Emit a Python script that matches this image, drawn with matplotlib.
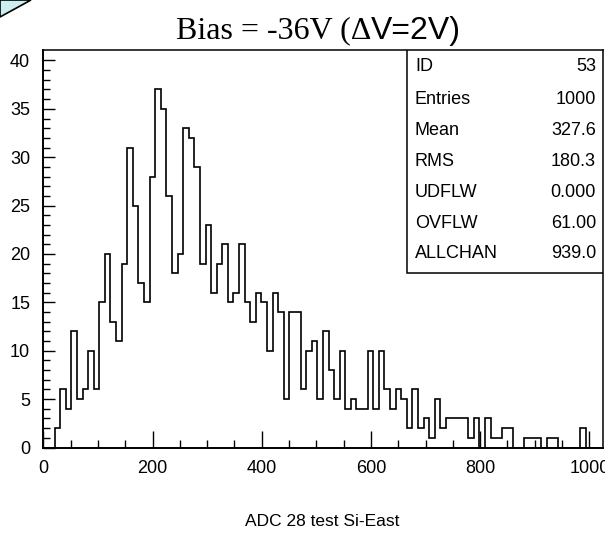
# -*- coding: utf-8 -*-

import numpy as np
import matplotlib
matplotlib.use("Agg")
import matplotlib.pyplot as plt
from matplotlib.patches import Rectangle, Polygon

# histogram: 100 channels between 0 and 1024
x_min = 0
x_max = 1024
n_bins = 100
counts = [
    0, 0, 2, 6, 4, 12, 5, 6, 10, 6,
    15, 20, 13, 11, 19, 31, 25, 17, 15, 28,
    37, 35, 26, 18, 20, 33, 32, 29, 19, 23,
    16, 19, 21, 15, 16, 21, 15, 13, 16, 15,
    10, 16, 14, 5, 14, 14, 6, 10, 11, 5,
    12, 8, 5, 10, 4, 5, 4, 4, 10, 4,
    10, 6, 4, 6, 5, 2, 6, 2, 3, 1,
    5, 2, 3, 3, 3, 3, 1, 3, 0, 3,
    1, 1, 2, 2, 0, 0, 1, 1, 1, 0,
    1, 1, 0, 0, 0, 0, 2, 0, 0, 0,
]

stat_names = ["ID", "Entries", "Mean", "RMS", "UDFLW", "OVFLW", "ALLCHAN"]
stat_values = ["53", "1000", "327.6", "180.3", "0.000", "61.00", "939.0"]

title_serif = "Bias = -36V (\u0394"
title_sans = "V=2V)"
x_title = "ADC 28 test Si-East"

paw_font = ["Liberation Sans", "DejaVu Sans"]
plt.rcParams["font.family"] = paw_font


def draw_histogram():
    fig = plt.figure(figsize=(6.05, 5.36), dpi=100)
    W, H = 605.0, 536.0
    ax = fig.add_axes([43.4 / W, 1 - 447.5 / H, (602.5 - 43.4) / W, (447.5 - 50) / H])

    edges = np.linspace(x_min, x_max, n_bins + 1)
    ax.stairs(counts, edges, color="black", lw=1.2, baseline=0)

    ax.set_xlim(x_min, x_max)
    ax.set_ylim(0, 41.08)

    ax.set_xticks(np.arange(0, 1001, 200))
    ax.set_xticks(np.arange(0, 1001, 50), minor=True)
    ax.set_yticks(np.arange(0, 41, 5))
    ax.set_yticks(np.arange(0, 41, 1), minor=True)

    ax.tick_params(axis="x", which="major", direction="in", length=12, width=1.0,
                   labelsize=13, pad=9, top=False)
    ax.tick_params(axis="x", which="minor", direction="in", length=5.8, width=1.0, top=False)
    ax.tick_params(axis="y", which="major", direction="in", length=8.4, width=1.0,
                   labelsize=13, pad=9.5, right=False)
    ax.tick_params(axis="y", which="minor", direction="in", length=4.8, width=1.0, right=False)

    for side in ["left", "bottom"]:
        ax.spines[side].set_linewidth(1.4)
    for side in ["top", "right"]:
        ax.spines[side].set_linewidth(1.1)

    # statistics box (top right corner)
    bx0 = (406.5 - 43.4) / (602.5 - 43.4)
    by0 = (447.5 - 273) / (447.5 - 50)
    ax.add_patch(Rectangle((bx0, by0), 1 - bx0, 1 - by0, transform=ax.transAxes,
                           facecolor="white", edgecolor="black", lw=1.1, zorder=5))
    row_tops = [66.7, 99, 130.5, 161.5, 192.5, 223, 253.5]
    for name, val, py in zip(stat_names, stat_values, row_tops):
        fig.text(415 / W, 1 - py / H, name, ha="left", va="center", fontsize=13, zorder=6)
        fig.text(596 / W, 1 - py / H, val, ha="right", va="center", fontsize=13, zorder=6)

    # title: serif part + sans part
    fig.text(371 / W, 1 - 38.7 / H, title_serif, ha="right", va="baseline",
             fontsize=23, family=["Liberation Serif", "DejaVu Serif"])
    fig.text(371 / W, 1 - 38.7 / H, title_sans, ha="left", va="baseline",
             fontsize=23, family=["Liberation Sans", "DejaVu Sans"])

    fig.text(321.7 / W, 1 - 522 / H, x_title, ha="center", va="center", fontsize=12.5)

    # corner decoration of the original page
    fig.add_artist(Polygon([[0, 1], [31 / W, 1], [0, 1 - 17 / H]], closed=True,
                           transform=fig.transFigure, facecolor="#cdeef0",
                           edgecolor="black", lw=1.2))

    fig.savefig("out.png", dpi=100)


if __name__ == "__main__":
    draw_histogram()
